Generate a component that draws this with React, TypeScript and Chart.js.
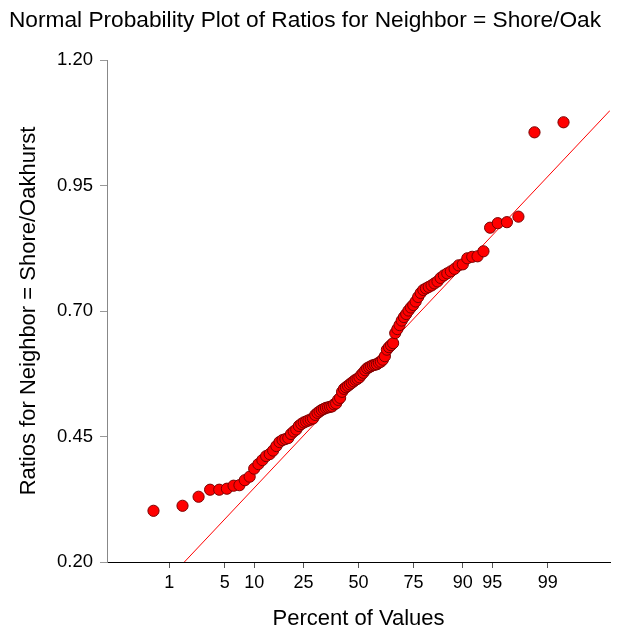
import React, { useEffect, useRef } from 'react';
import { Chart, registerables } from 'chart.js';

Chart.register(...registerables);

const chartTitle = 'Normal Probability Plot of Ratios for Neighbor = Shore/Oak';
const yAxisTitle = 'Ratios for Neighbor = Shore/Oakhurst';
const xAxisTitle = 'Percent of Values';

// percent tick labels on the normal-probability x axis
const percentTicks = [1, 5, 10, 25, 50, 75, 90, 95, 99];
// axis range in percent
const percentRange = [0.1, 99.9];
// y-axis ticks
const yTicks = [0.2, 0.45, 0.7, 0.95, 1.2];

// sorted ratio values
const sortedRatios = [
  0.302, 0.312, 0.330, 0.344, 0.344, 0.346, 0.352, 0.353, 0.363, 0.370,
  0.386, 0.395, 0.403, 0.411, 0.415, 0.422, 0.431, 0.439, 0.443, 0.445,
  0.447, 0.455, 0.460, 0.464, 0.471, 0.475, 0.478, 0.480, 0.482, 0.484,
  0.486, 0.493, 0.497, 0.500, 0.503, 0.505, 0.507, 0.508, 0.509, 0.510,
  0.514, 0.516, 0.523, 0.527, 0.539, 0.545, 0.548, 0.551, 0.554, 0.557,
  0.560, 0.563, 0.565, 0.568, 0.573, 0.577, 0.582, 0.586, 0.588, 0.590,
  0.592, 0.593, 0.594, 0.597, 0.599, 0.603, 0.610, 0.623, 0.628, 0.632,
  0.636, 0.656, 0.664, 0.672, 0.681, 0.688, 0.694, 0.701, 0.707, 0.712,
  0.719, 0.728, 0.736, 0.742, 0.745, 0.748, 0.751, 0.755, 0.759, 0.766,
  0.771, 0.775, 0.779, 0.784, 0.791, 0.793, 0.805, 0.808, 0.809, 0.819,
  0.866, 0.875, 0.877, 0.888, 1.056, 1.076,
];

// reference line: value = intercept + slope * z
const refIntercept = 0.568;
const refSlope = 0.172;

// inverse standard normal CDF (Acklam)
function probit(p: number): number {
  const a = [-3.969683028665376e1, 2.209460984245205e2, -2.759285104469687e2, 1.38357751867269e2, -3.066479806614716e1, 2.506628277459239];
  const b = [-5.447609879822406e1, 1.615858368580409e2, -1.556989798598866e2, 6.680131188771972e1, -1.328068155288572e1];
  const c = [-7.784894002430293e-3, -3.223964580411365e-1, -2.400758277161838, -2.549732539343734, 4.374664141464968, 2.938163982698783];
  const d = [7.784695709041462e-3, 3.224671290700398e-1, 2.445134137142996, 3.754408661907416];
  const plow = 0.02425;
  const phigh = 1 - plow;
  if (p < plow) {
    const q = Math.sqrt(-2 * Math.log(p));
    return (((((c[0] * q + c[1]) * q + c[2]) * q + c[3]) * q + c[4]) * q + c[5]) /
      ((((d[0] * q + d[1]) * q + d[2]) * q + d[3]) * q + 1);
  }
  if (p > phigh) {
    const q = Math.sqrt(-2 * Math.log(1 - p));
    return -(((((c[0] * q + c[1]) * q + c[2]) * q + c[3]) * q + c[4]) * q + c[5]) /
      ((((d[0] * q + d[1]) * q + d[2]) * q + d[3]) * q + 1);
  }
  const q = p - 0.5;
  const r = q * q;
  return (((((a[0] * r + a[1]) * r + a[2]) * r + a[3]) * r + a[4]) * r + a[5]) * q /
    (((((b[0] * r + b[1]) * r + b[2]) * r + b[3]) * r + b[4]) * r + 1);
}

const FONT = '"Liberation Sans", Arial, sans-serif';

export default function App() {
  const canvasRef = useRef<HTMLCanvasElement | null>(null);

  useEffect(() => {
    if (!canvasRef.current) return;
    const n = sortedRatios.length;
    const points = sortedRatios.map((v, i) => ({
      x: probit((i + 1 - 0.375) / (n + 0.25)),
      y: v,
    }));
    const zMin = probit(percentRange[0] / 100);
    const zMax = probit(percentRange[1] / 100);
    const line = [
      { x: zMin, y: refIntercept + refSlope * zMin },
      { x: zMax, y: refIntercept + refSlope * zMax },
    ];

    const chart = new Chart(canvasRef.current, {
      type: 'scatter',
      data: {
        datasets: [
          {
            type: 'scatter',
            data: points,
            backgroundColor: '#ff0000',
            borderColor: '#7a0000',
            borderWidth: 1,
            pointRadius: 5.6,
            order: 0,
          },
          {
            type: 'line',
            data: line,
            borderColor: '#ff0000',
            borderWidth: 1,
            pointRadius: 0,
            fill: false,
            order: 1,
          } as any,
        ],
      },
      options: {
        responsive: false,
        animation: false,
        devicePixelRatio: 1,
        layout: { padding: { top: 0, right: 8, left: 0, bottom: 0 } },
        plugins: {
          legend: { display: false },
          tooltip: { enabled: false },
          title: {
            display: true,
            text: chartTitle,
            color: '#000',
            font: { family: FONT, size: 22.7, weight: 'normal' },
            padding: { top: 7, bottom: 25.8 },
          },
        },
        scales: {
          x: {
            type: 'linear',
            min: zMin,
            max: zMax,
            afterBuildTicks: (scale: any) => {
              scale.ticks = percentTicks.map((p) => ({ value: probit(p / 100) }));
            },
            afterFit: (scale: any) => {
              scale.height = 71;
            },
            ticks: {
              autoSkip: false,
              maxRotation: 0,
              color: '#000',
              padding: 4,
              font: { family: FONT, size: 18 },
              callback: (_v: any, i: number) => String(percentTicks[i]),
            },
            grid: { drawOnChartArea: false, drawTicks: true, tickLength: 6, color: '#555' },
            border: { color: '#000', width: 1 },
            title: {
              display: true,
              text: xAxisTitle,
              color: '#000',
              font: { family: FONT, size: 22 },
              padding: { top: 0, bottom: 0.8 },
            },
          },
          y: {
            type: 'linear',
            min: 0.2,
            max: 1.2,
            afterBuildTicks: (scale: any) => {
              scale.ticks = yTicks.map((v) => ({ value: v }));
            },
            afterFit: (scale: any) => {
              scale.width = 107;
            },
            ticks: {
              color: '#000',
              padding: 7,
              font: { family: FONT, size: 18.5 },
              callback: (v: any) => Number(v).toFixed(2),
            },
            grid: { drawOnChartArea: false, drawTicks: true, tickLength: 7, color: '#999' },
            border: { color: '#888', width: 1 },
            title: {
              display: true,
              text: yAxisTitle,
              color: '#000',
              font: { family: FONT, size: 22 },
              padding: { top: 16, bottom: 0 },
            },
          },
        },
      },
    });
    return () => chart.destroy();
  }, []);

  return (
    <div style={{ position: 'fixed', left: 0, top: 0, width: 618, height: 633, background: '#fff' }}>
      <canvas ref={canvasRef} width={618} height={633} style={{ display: 'block' }} />
    </div>
  );
}
